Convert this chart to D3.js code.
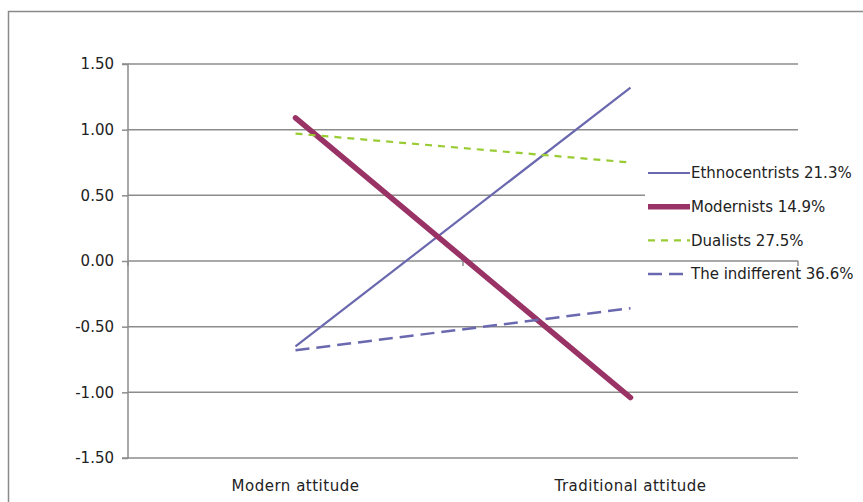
<html>
  <head>
    <script src="https://d3js.org/d3.v7.min.js"></script>
    <style>
      body { margin: 0; background: #fff; }
      svg { font-family: "DejaVu Sans", Verdana, sans-serif; }
      .axis text { font-size: 15px; fill: #222; }
      .legend text { font-size: 15px; fill: #222; }
    </style>
  </head>
  <body>
    <div id="chart"></div>
    <script>
var categories = ["Modern attitude", "Traditional attitude"];
var seriesNames = ["Ethnocentrists 21.3%", "Modernists 14.9%", "Dualists 27.5%", "The indifferent 36.6%"];
var ethnocentrists = [-0.65, 1.32];
var modernists = [1.09, -1.04];
var dualists = [0.97, 0.75];
var indifferent = [-0.68, -0.36];
var yTicks = [1.5, 1.0, 0.5, 0, -0.5, -1.0, -1.5];

var styles = [
  {color: "#6a68ae", width: 2.2, dash: null},
  {color: "#993366", width: 5.5, dash: null},
  {color: "#99cc33", width: 2.2, dash: "7,6"},
  {color: "#6a68ae", width: 2.5, dash: "14,7"}
];

var data = [ethnocentrists, modernists, dualists, indifferent].map(function(v, i) {
  return {name: seriesNames[i], values: v.map(function(d, j) { return {cat: categories[j], val: d}; })};
});

var width = 863, height = 502;
var plotLeft = 128, plotRight = 798, plotTop = 64, plotBottom = 458;

var svg = d3.select("#chart").append("svg")
  .attr("width", width)
  .attr("height", height);

// outer chart border
svg.append("rect")
  .attr("x", 8.5).attr("y", 11.5)
  .attr("width", 900).attr("height", 600)
  .attr("fill", "none").attr("stroke", "#8a8a8a").attr("stroke-width", 1.5);

var x = d3.scaleBand().domain(categories).range([plotLeft, plotRight]);
var y = d3.scaleLinear().domain([-1.5, 1.5]).range([plotBottom, plotTop]);

// gridlines
svg.append("g")
  .selectAll("line")
  .data(yTicks).enter()
  .append("line")
  .attr("x1", plotLeft).attr("x2", plotRight)
  .attr("y1", d => y(d)).attr("y2", d => y(d))
  .attr("stroke", "#8c8c8c").attr("stroke-width", 1.5);

/* y axis */
var yAxis = d3.axisLeft(y).tickValues(yTicks).tickFormat(d => d3.format(".2f")(d).replace("−", "-")).tickSize(6).tickPadding(8);
var gy = svg.append("g")
  .attr("class", "axis")
  .attr("transform", `translate(${plotLeft}, 0)`)
  .call(yAxis)
  .attr("font-size", null)
  .attr("font-family", null);
gy.select(".domain").attr("stroke", "#8c8c8c").attr("stroke-width", 1.5).attr("d", `M-6,${plotTop}H0V${plotBottom}H-6`);
gy.selectAll(".tick line").attr("stroke", "#8c8c8c").attr("stroke-width", 1.5);
gy.selectAll(".tick text").attr("fill", null);

/* x axis at zero */
svg.append("g")
  .attr("transform", `translate(0, ${y(0)})`)
  .selectAll("line")
  .data([plotLeft, plotLeft + x.bandwidth(), plotRight]).enter()
  .append("line")
  .attr("x1", d => d).attr("x2", d => d)
  .attr("y1", 0).attr("y2", 5)
  .attr("stroke", "#8c8c8c").attr("stroke-width", 1.5);
svg.append("g")
  .attr("class", "axis")
  .selectAll("text")
  .data(categories).enter()
  .append("text")
  .attr("x", d => x(d) + x.bandwidth() / 2)
  .attr("y", 491)
  .attr("text-anchor", "middle")
  .style("letter-spacing", "0.5px")
  .text(d => d);

/* legend background */
svg.append("rect")
  .attr("x", 645).attr("y", 155).attr("width", 160).attr("height", 85)
  .attr("fill", "#fff");

/* lines */
var line = d3.line()
  .x(d => x(d.cat) + x.bandwidth() / 2)
  .y(d => y(d.val));

svg.append("g")
  .selectAll("path")
  .data(data).enter()
  .append("path")
  .attr("d", d => line(d.values))
  .attr("fill", "none")
  .attr("stroke", (d, i) => styles[i].color)
  .attr("stroke-width", (d, i) => styles[i].width)
  .attr("stroke-dasharray", (d, i) => styles[i].dash)
  .attr("stroke-linecap", (d, i) => i == 1 ? "round" : "butt");

/* legend */
var legend = svg.append("g")
  .attr("class", "legend")
  .selectAll("g")
  .data(data).enter()
  .append("g")
  .attr("transform", (d, i) => `translate(648, ${173 + i * 33.7})`);
legend.append("line")
  .attr("x1", 0).attr("x2", 42)
  .attr("stroke", (d, i) => styles[i].color)
  .attr("stroke-width", (d, i) => styles[i].width)
  .attr("stroke-dasharray", (d, i) => styles[i].dash);
legend.append("text")
  .attr("x", 43)
  .attr("dy", "0.35em")
  .text(d => d.name);
    </script>
  </body>
</html>
